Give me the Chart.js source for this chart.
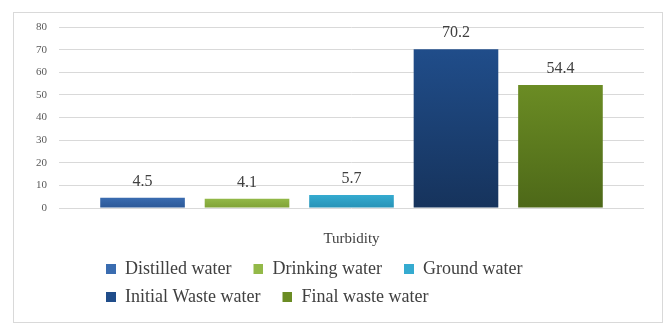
<!DOCTYPE html>
<html>
<head>
<meta charset="utf-8">
<script src="https://cdn.jsdelivr.net/npm/chart.js@4"></script>
<style>
  html, body { margin: 0; padding: 0; background: #fff; }
  #wrap { width: 669px; height: 327px; }
</style>
</head>
<body>
<div id="wrap"><canvas id="barChart" width="669" height="327"></canvas></div>
<script>
// chart data
var categories = ['Turbidity'];
var seriesNames = ['Distilled water', 'Drinking water', 'Ground water', 'Initial Waste water', 'Final waste water'];
var seriesValues = [4.5, 4.1, 5.7, 70.2, 54.4];
var yTicks = [0, 10, 20, 30, 40, 50, 60, 70, 80];

// top / bottom colour of each bar
var topColors = ['#3a6cb0', '#93b948', '#35abd0', '#204d8a', '#6b8c24'];
var bottomColors = ['#2c5897', '#7fa236', '#2792b6', '#16335c', '#4d6818'];

var serif = "'Liberation Serif', 'DejaVu Serif', serif";

// legend marker: 10px square at the right end of a wider transparent strip,
// gives the wider spacing between legend entries seen in the original
var markerW = 22;
function legendMarker(color) {
    var c = document.createElement('canvas');
    c.width = markerW;
    c.height = 10;
    var g = c.getContext('2d');
    g.fillStyle = color;
    g.fillRect(markerW - 10, 0, 10, 10);
    return c;
}

function barFill(i) {
    return function (context) {
        var chart = context.chart;
        var area = chart.chartArea;
        var y = chart.scales.y;
        if (!area || !y) return topColors[i];
        var top = y.getPixelForValue(seriesValues[i]);
        if (!isFinite(top) || !isFinite(area.bottom) || top >= area.bottom) return topColors[i];
        var g = chart.ctx.createLinearGradient(0, top, 0, area.bottom);
        g.addColorStop(0, topColors[i]);
        g.addColorStop(1, bottomColors[i]);
        return g;
    };
}

var datasets = seriesNames.map(function (name, i) {
    return {
        label: name,
        data: [seriesValues[i]],
        backgroundColor: barFill(i),
        legendMarker: legendMarker(topColors[i]),
        borderWidth: 0
    };
});

// white background + light frame around the whole chart
var framePlugin = {
    id: 'frame',
    beforeDraw: function (chart) {
        var ctx = chart.ctx;
        ctx.save();
        ctx.fillStyle = '#fff';
        ctx.fillRect(0, 0, chart.width, chart.height);
        ctx.strokeStyle = '#d9d9d9';
        ctx.lineWidth = 1;
        ctx.strokeRect(13.5, 12.5, 649, 310);
        ctx.restore();
        // place the legend like the original (left aligned, two rows)
        var lg = chart.legend;
        if (lg) {
            lg.left = 106 - markerW;
            lg.right = 600;
            lg.top = 250;
        }
    }
};

// value labels above the bars
var valueLabels = {
    id: 'valueLabels',
    afterDatasetsDraw: function (chart) {
        var ctx = chart.ctx;
        ctx.save();
        ctx.font = '16px ' + serif;
        ctx.fillStyle = '#404040';
        ctx.textAlign = 'center';
        ctx.textBaseline = 'bottom';
        chart.data.datasets.forEach(function (ds, i) {
            var bar = chart.getDatasetMeta(i).data[0];
            ctx.fillText(String(ds.data[0]), bar.x, bar.y - 8);
        });
        ctx.restore();
    }
};

document.addEventListener('DOMContentLoaded', function () {
    var ctx = document.getElementById('barChart').getContext('2d');
    new Chart(ctx, {
        type: 'bar',
        data: {
            labels: categories,
            datasets: datasets
        },
        plugins: [framePlugin, valueLabels],
        options: {
            responsive: false,
            animation: false,
            layout: { padding: { left: 24, right: 25, top: 27, bottom: -1 } },
            datasets: {
                bar: { categoryPercentage: 0.893, barPercentage: 0.81 }
            },
            scales: {
                x: {
                    grid: { display: false },
                    border: { display: false },
                    ticks: { color: '#404040', font: { family: serif, size: 15 }, padding: 14 }
                },
                y: {
                    min: 0,
                    max: 80,
                    afterBuildTicks: function (axis) {
                        axis.ticks = yTicks.map(function (v) { return { value: v }; });
                    },
                    grid: { color: '#d9d9d9', drawTicks: false },
                    border: { display: false },
                    ticks: { color: '#595959', font: { family: serif, size: 11 }, padding: 12 }
                }
            },
            plugins: {
                tooltip: { enabled: false },
                legend: {
                    position: 'bottom',
                    align: 'start',
                    labels: {
                        color: '#404040',
                        font: { family: serif, size: 18 },
                        usePointStyle: true,
                        pointStyleWidth: markerW,
                        boxHeight: 10,
                        padding: 10,
                        generateLabels: function (chart) {
                            return chart.data.datasets.map(function (ds, i) {
                                return {
                                    text: ds.label,
                                    pointStyle: ds.legendMarker,
                                    fillStyle: topColors[i],
                                    strokeStyle: topColors[i],
                                    lineWidth: 0,
                                    fontColor: '#404040',
                                    datasetIndex: i,
                                    hidden: false
                                };
                            });
                        }
                    }
                }
            }
        }
    });
});
</script>
</body>
</html>
